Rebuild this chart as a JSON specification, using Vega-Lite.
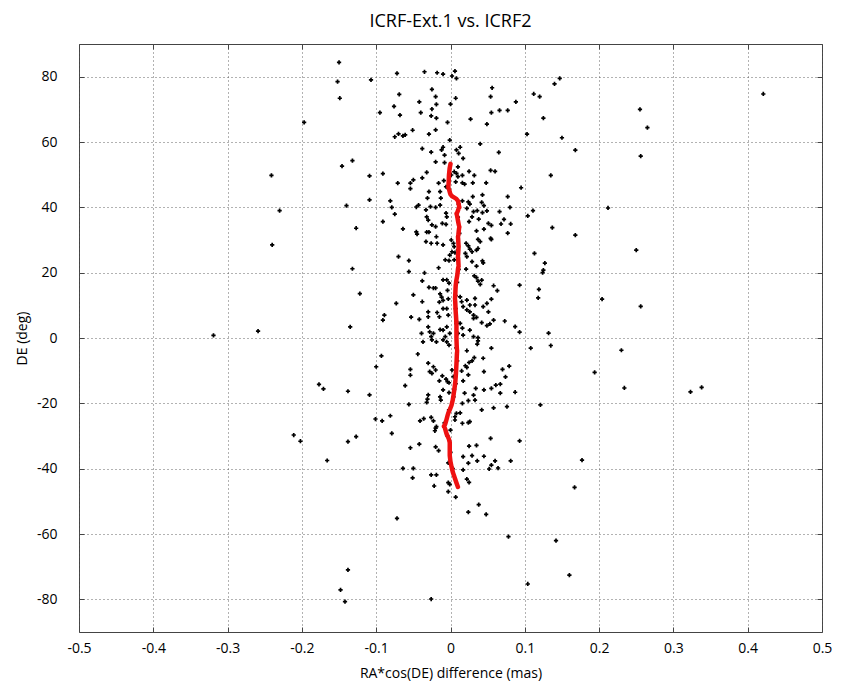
{
  "$schema": "https://vega.github.io/schema/vega-lite/v6.json",
  "width": 743,
  "height": 588,
  "autosize": {"type": "none"},
  "padding": {"left": 79, "top": 44, "right": 28, "bottom": 49},
  "background": "white",
  "title": {"text": "ICRF-Ext.1 vs. ICRF2", "fontSize": 18, "fontWeight": "normal", "font": "Open Sans", "color": "black", "offset": 13, "anchor": "middle"},
  "config": {
    "view": {"stroke": "#444", "strokeWidth": 1},
    "axis": {"labelFont": "Open Sans", "labelFontSize": 14, "labelColor": "black", "titleFont": "Open Sans", "titleFontSize": 14, "titleFontWeight": "normal", "titleColor": "black"}
  },
  "datasets": {
    "pts": [
      {"ra": -0.150, "de": 84.4}, {"ra": -0.152, "de": 78.5}, {"ra": -0.107, "de": 79.0}, {"ra": -0.149, "de": 73.4},
      {"ra": -0.072, "de": 81.0}, {"ra": -0.035, "de": 81.5}, {"ra": -0.018, "de": 81.2}, {"ra": -0.010, "de": 80.8},
      {"ra": 0.006, "de": 81.7}, {"ra": 0.002, "de": 80.2}, {"ra": 0.008, "de": 79.5}, {"ra": -0.069, "de": 74.6},
      {"ra": -0.025, "de": 76.1}, {"ra": -0.020, "de": 73.9}, {"ra": 0.007, "de": 73.4}, {"ra": -0.042, "de": 72.3},
      {"ra": -0.019, "de": 71.5}, {"ra": -0.076, "de": 70.9}, {"ra": 0.000, "de": 71.6}, {"ra": -0.025, "de": 70.1},
      {"ra": -0.095, "de": 69.0}, {"ra": -0.040, "de": 69.0}, {"ra": -0.068, "de": 68.2}, {"ra": -0.026, "de": 68.0},
      {"ra": -0.019, "de": 67.3}, {"ra": -0.004, "de": 66.0}, {"ra": -0.051, "de": 63.6}, {"ra": -0.020, "de": 63.7},
      {"ra": -0.070, "de": 62.5}, {"ra": -0.075, "de": 61.6}, {"ra": -0.064, "de": 61.9}, {"ra": -0.061, "de": 62.2},
      {"ra": -0.029, "de": 62.4}, {"ra": -0.001, "de": 60.6}, {"ra": -0.038, "de": 58.0}, {"ra": -0.026, "de": 56.9},
      {"ra": -0.012, "de": 57.6}, {"ra": -0.010, "de": 58.4}, {"ra": -0.008, "de": 56.0}, {"ra": 0.008, "de": 57.6},
      {"ra": 0.011, "de": 56.5}, {"ra": -0.146, "de": 52.6}, {"ra": -0.132, "de": 54.3}, {"ra": -0.109, "de": 49.6},
      {"ra": -0.091, "de": 50.3}, {"ra": -0.071, "de": 47.4}, {"ra": -0.054, "de": 47.4}, {"ra": -0.050, "de": 48.4},
      {"ra": -0.038, "de": 49.0}, {"ra": -0.032, "de": 50.7}, {"ra": -0.020, "de": 53.9}, {"ra": -0.008, "de": 53.7},
      {"ra": -0.054, "de": 45.7}, {"ra": -0.016, "de": 47.4}, {"ra": -0.009, "de": 48.2}, {"ra": -0.006, "de": 46.3},
      {"ra": -0.003, "de": 45.8}, {"ra": 0.001, "de": 49.9}, {"ra": 0.005, "de": 50.9}, {"ra": 0.008, "de": 50.4},
      {"ra": 0.010, "de": 49.4}, {"ra": 0.010, "de": 52.4}, {"ra": 0.007, "de": 47.8},
      {"ra": 0.147, "de": 79.5}, {"ra": 0.140, "de": 77.8}, {"ra": 0.056, "de": 76.6}, {"ra": 0.054, "de": 73.9},
      {"ra": 0.112, "de": 74.7}, {"ra": 0.120, "de": 73.9}, {"ra": 0.088, "de": 72.3}, {"ra": 0.055, "de": 69.0},
      {"ra": 0.066, "de": 69.7}, {"ra": 0.077, "de": 69.7}, {"ra": 0.027, "de": 67.0}, {"ra": 0.049, "de": 65.5},
      {"ra": 0.125, "de": 67.3}, {"ra": 0.103, "de": 62.4}, {"ra": 0.150, "de": 61.3}, {"ra": 0.168, "de": 57.5},
      {"ra": 0.040, "de": 59.4}, {"ra": 0.013, "de": 58.4}, {"ra": 0.065, "de": 56.8}, {"ra": 0.017, "de": 55.0},
      {"ra": 0.025, "de": 51.0}, {"ra": 0.054, "de": 51.3}, {"ra": 0.060, "de": 51.0}, {"ra": 0.016, "de": 49.8},
      {"ra": 0.032, "de": 49.8}, {"ra": 0.135, "de": 49.8}, {"ra": 0.016, "de": 47.5}, {"ra": 0.019, "de": 47.1},
      {"ra": 0.030, "de": 47.5}, {"ra": 0.048, "de": 47.5}, {"ra": 0.095, "de": 46.0},
      {"ra": -0.140, "de": 40.5}, {"ra": -0.109, "de": 42.3}, {"ra": -0.081, "de": 42.0}, {"ra": -0.079, "de": 40.0},
      {"ra": -0.075, "de": 37.9}, {"ra": -0.091, "de": 35.6}, {"ra": -0.127, "de": 33.6}, {"ra": -0.064, "de": 33.4},
      {"ra": -0.046, "de": 40.1}, {"ra": -0.043, "de": 40.7}, {"ra": -0.031, "de": 42.8}, {"ra": -0.029, "de": 44.8},
      {"ra": -0.014, "de": 44.8}, {"ra": -0.013, "de": 42.8}, {"ra": -0.027, "de": 40.2}, {"ra": -0.020, "de": 40.0},
      {"ra": -0.014, "de": 40.7}, {"ra": -0.033, "de": 39.2}, {"ra": -0.032, "de": 37.1}, {"ra": -0.030, "de": 36.1},
      {"ra": -0.006, "de": 38.2}, {"ra": -0.005, "de": 37.1}, {"ra": -0.025, "de": 34.6}, {"ra": -0.020, "de": 34.1},
      {"ra": -0.011, "de": 35.1}, {"ra": -0.006, "de": 34.8}, {"ra": -0.046, "de": 32.5}, {"ra": -0.045, "de": 31.8},
      {"ra": -0.032, "de": 32.4}, {"ra": -0.029, "de": 32.4}, {"ra": -0.019, "de": 31.0}, {"ra": -0.033, "de": 29.5},
      {"ra": -0.026, "de": 29.0}, {"ra": -0.018, "de": 29.0}, {"ra": -0.010, "de": 28.5}, {"ra": 0.001, "de": 30.0},
      {"ra": 0.004, "de": 29.0}, {"ra": -0.001, "de": 25.4}, {"ra": 0.002, "de": 26.4}, {"ra": 0.005, "de": 28.0},
      {"ra": 0.006, "de": 26.1}, {"ra": -0.007, "de": 23.9}, {"ra": -0.002, "de": 23.7}, {"ra": 0.005, "de": 23.9},
      {"ra": 0.010, "de": 24.6}, {"ra": -0.070, "de": 24.9}, {"ra": -0.056, "de": 23.7}, {"ra": -0.132, "de": 21.2},
      {"ra": -0.056, "de": 20.3}, {"ra": -0.035, "de": 19.9}, {"ra": -0.016, "de": 21.5}, {"ra": -0.010, "de": 17.8},
      {"ra": -0.005, "de": 17.8}, {"ra": -0.002, "de": 16.8}, {"ra": -0.038, "de": 17.5}, {"ra": -0.122, "de": 13.6},
      {"ra": -0.029, "de": 15.5}, {"ra": -0.023, "de": 15.3}, {"ra": -0.020, "de": 15.3}, {"ra": -0.073, "de": 10.6},
      {"ra": -0.050, "de": 13.2}, {"ra": -0.038, "de": 11.1}, {"ra": -0.014, "de": 13.5}, {"ra": -0.012, "de": 12.5},
      {"ra": -0.010, "de": 11.5}, {"ra": -0.015, "de": 11.0}, {"ra": -0.004, "de": 14.6}, {"ra": -0.003, "de": 12.0},
      {"ra": -0.089, "de": 7.0}, {"ra": -0.091, "de": 5.5}, {"ra": -0.053, "de": 6.4}, {"ra": -0.042, "de": 5.7},
      {"ra": -0.030, "de": 8.0}, {"ra": -0.030, "de": 6.5}, {"ra": -0.018, "de": 7.8}, {"ra": -0.015, "de": 6.5},
      {"ra": -0.010, "de": 9.0}, {"ra": -0.005, "de": 9.0}, {"ra": -0.003, "de": 7.0}, {"ra": -0.135, "de": 3.4},
      {"ra": -0.039, "de": 1.4}, {"ra": -0.030, "de": 3.4}, {"ra": -0.028, "de": 1.9}, {"ra": -0.023, "de": 1.4},
      {"ra": -0.014, "de": 2.6}, {"ra": -0.010, "de": 2.4}, {"ra": -0.005, "de": 3.4}, {"ra": -0.001, "de": 1.4},
      {"ra": -0.026, "de": 0.4}, {"ra": -0.007, "de": 0.4}, {"ra": 0.008, "de": 4.4}, {"ra": 0.010, "de": 1.4},
      {"ra": 0.030, "de": 43.3}, {"ra": 0.043, "de": 43.8}, {"ra": 0.077, "de": 43.3}, {"ra": 0.080, "de": 40.0},
      {"ra": 0.016, "de": 42.0}, {"ra": 0.024, "de": 41.7}, {"ra": 0.026, "de": 41.0}, {"ra": 0.042, "de": 41.5},
      {"ra": 0.045, "de": 40.5}, {"ra": 0.049, "de": 38.9}, {"ra": 0.022, "de": 39.7}, {"ra": 0.031, "de": 38.7},
      {"ra": 0.036, "de": 39.0}, {"ra": 0.029, "de": 37.1}, {"ra": 0.025, "de": 35.6}, {"ra": 0.043, "de": 38.4},
      {"ra": 0.066, "de": 38.7}, {"ra": 0.072, "de": 36.3}, {"ra": 0.068, "de": 34.9}, {"ra": 0.081, "de": 34.9},
      {"ra": 0.104, "de": 37.4}, {"ra": 0.111, "de": 39.0}, {"ra": 0.038, "de": 36.4}, {"ra": 0.051, "de": 35.1},
      {"ra": 0.055, "de": 34.5}, {"ra": 0.035, "de": 32.8}, {"ra": 0.045, "de": 33.3}, {"ra": 0.137, "de": 33.8},
      {"ra": 0.168, "de": 31.5}, {"ra": 0.077, "de": 32.1}, {"ra": 0.054, "de": 30.5}, {"ra": 0.055, "de": 30.2},
      {"ra": 0.037, "de": 30.2}, {"ra": 0.040, "de": 29.5}, {"ra": 0.021, "de": 29.0}, {"ra": 0.024, "de": 28.2},
      {"ra": 0.026, "de": 27.2}, {"ra": 0.029, "de": 26.4}, {"ra": 0.035, "de": 26.9}, {"ra": 0.037, "de": 27.4},
      {"ra": 0.020, "de": 25.9}, {"ra": 0.022, "de": 24.9}, {"ra": 0.029, "de": 23.4}, {"ra": 0.035, "de": 22.0},
      {"ra": 0.021, "de": 21.1}, {"ra": 0.043, "de": 23.6}, {"ra": 0.044, "de": 23.0}, {"ra": 0.113, "de": 25.9},
      {"ra": 0.127, "de": 22.9}, {"ra": 0.125, "de": 20.8}, {"ra": 0.124, "de": 20.0}, {"ra": 0.032, "de": 19.0},
      {"ra": 0.035, "de": 18.5}, {"ra": 0.037, "de": 17.4}, {"ra": 0.042, "de": 17.7}, {"ra": 0.040, "de": 16.4},
      {"ra": 0.058, "de": 16.0}, {"ra": 0.063, "de": 14.5}, {"ra": 0.093, "de": 16.2}, {"ra": 0.119, "de": 14.9},
      {"ra": 0.118, "de": 12.3}, {"ra": 0.013, "de": 12.6}, {"ra": 0.015, "de": 11.1}, {"ra": 0.022, "de": 11.6},
      {"ra": 0.026, "de": 10.1}, {"ra": 0.033, "de": 12.1}, {"ra": 0.033, "de": 10.1}, {"ra": 0.055, "de": 11.9},
      {"ra": 0.049, "de": 10.6}, {"ra": 0.044, "de": 9.6}, {"ra": 0.017, "de": 9.6}, {"ra": 0.022, "de": 8.6},
      {"ra": 0.026, "de": 8.0}, {"ra": 0.031, "de": 7.0}, {"ra": 0.031, "de": 6.0}, {"ra": 0.035, "de": 6.3},
      {"ra": 0.051, "de": 8.0}, {"ra": 0.073, "de": 5.2}, {"ra": 0.058, "de": 5.5}, {"ra": 0.053, "de": 4.3},
      {"ra": 0.049, "de": 3.8}, {"ra": 0.042, "de": 4.7}, {"ra": 0.087, "de": 3.5}, {"ra": 0.093, "de": 1.8},
      {"ra": 0.132, "de": 1.5}, {"ra": 0.013, "de": 4.5}, {"ra": 0.016, "de": 3.0}, {"ra": 0.026, "de": 2.4},
      {"ra": 0.031, "de": 0.4}, {"ra": 0.037, "de": 0.1}, {"ra": 0.017, "de": 0.9},
      {"ra": -0.093, "de": -5.5}, {"ra": -0.100, "de": -8.8}, {"ra": -0.044, "de": -4.9}, {"ra": -0.037, "de": -1.2},
      {"ra": -0.025, "de": -0.6}, {"ra": -0.019, "de": -1.2}, {"ra": -0.010, "de": -0.6}, {"ra": -0.005, "de": -1.2},
      {"ra": -0.002, "de": -2.2}, {"ra": -0.030, "de": -7.7}, {"ra": -0.023, "de": -8.8}, {"ra": -0.028, "de": -10.3},
      {"ra": -0.025, "de": -10.8}, {"ra": -0.020, "de": -9.8}, {"ra": -0.054, "de": -9.6}, {"ra": -0.054, "de": -11.4},
      {"ra": -0.138, "de": -16.3}, {"ra": -0.109, "de": -17.4}, {"ra": -0.061, "de": -14.6}, {"ra": -0.011, "de": -11.6},
      {"ra": -0.006, "de": -12.6}, {"ra": -0.004, "de": -13.4}, {"ra": -0.015, "de": -13.1}, {"ra": -0.002, "de": -13.7},
      {"ra": 0.002, "de": -9.8}, {"ra": 0.004, "de": -11.8}, {"ra": 0.005, "de": -15.7}, {"ra": -0.010, "de": -15.9},
      {"ra": -0.002, "de": -16.7}, {"ra": -0.030, "de": -17.4}, {"ra": -0.031, "de": -18.7}, {"ra": -0.032, "de": -19.7},
      {"ra": -0.014, "de": -18.0}, {"ra": -0.013, "de": -19.0}, {"ra": -0.056, "de": -20.3}, {"ra": -0.101, "de": -24.8},
      {"ra": -0.092, "de": -25.4}, {"ra": -0.081, "de": -23.8}, {"ra": -0.079, "de": -29.2}, {"ra": -0.041, "de": -25.4},
      {"ra": -0.036, "de": -24.7}, {"ra": -0.026, "de": -24.3}, {"ra": -0.023, "de": -25.4}, {"ra": -0.020, "de": -27.6},
      {"ra": -0.021, "de": -28.4}, {"ra": -0.019, "de": -27.1}, {"ra": 0.000, "de": -28.2}, {"ra": 0.006, "de": -24.1},
      {"ra": 0.008, "de": -23.1}, {"ra": 0.006, "de": -25.1}, {"ra": -0.138, "de": -31.7}, {"ra": -0.127, "de": -30.2},
      {"ra": -0.054, "de": -33.6}, {"ra": -0.042, "de": -32.5}, {"ra": -0.020, "de": -33.3}, {"ra": -0.016, "de": -34.5},
      {"ra": -0.064, "de": -39.9}, {"ra": -0.050, "de": -39.9}, {"ra": -0.051, "de": -42.8}, {"ra": -0.026, "de": -41.9},
      {"ra": -0.019, "de": -41.9}, {"ra": -0.022, "de": -45.3}, {"ra": -0.003, "de": -38.2}, {"ra": -0.003, "de": -44.3},
      {"ra": -0.001, "de": -44.8},
      {"ra": 0.108, "de": -3.1}, {"ra": 0.135, "de": -2.3}, {"ra": 0.194, "de": -10.5}, {"ra": 0.055, "de": -3.1},
      {"ra": 0.036, "de": -1.9}, {"ra": 0.037, "de": -0.9}, {"ra": 0.022, "de": -3.9}, {"ra": 0.032, "de": -6.0},
      {"ra": 0.029, "de": -7.0}, {"ra": 0.025, "de": -7.5}, {"ra": 0.020, "de": -8.5}, {"ra": 0.022, "de": -9.0},
      {"ra": 0.015, "de": -10.1}, {"ra": 0.044, "de": -6.2}, {"ra": 0.079, "de": -8.6}, {"ra": 0.070, "de": -9.6},
      {"ra": 0.074, "de": -11.9}, {"ra": 0.045, "de": -10.3}, {"ra": 0.024, "de": -11.3}, {"ra": 0.017, "de": -13.1},
      {"ra": 0.067, "de": -14.1}, {"ra": 0.061, "de": -14.4}, {"ra": 0.055, "de": -15.4}, {"ra": 0.045, "de": -15.9},
      {"ra": 0.034, "de": -15.4}, {"ra": 0.067, "de": -16.9}, {"ra": 0.087, "de": -16.6}, {"ra": 0.019, "de": -16.9},
      {"ra": 0.031, "de": -17.5}, {"ra": 0.033, "de": -19.0}, {"ra": 0.024, "de": -19.2}, {"ra": 0.016, "de": -20.0},
      {"ra": 0.121, "de": -20.5}, {"ra": 0.076, "de": -21.0}, {"ra": 0.058, "de": -21.4}, {"ra": 0.042, "de": -22.0},
      {"ra": 0.013, "de": -22.9}, {"ra": 0.024, "de": -25.9}, {"ra": 0.026, "de": -25.6}, {"ra": 0.016, "de": -26.1},
      {"ra": 0.054, "de": -30.7}, {"ra": 0.093, "de": -31.5}, {"ra": 0.025, "de": -33.1}, {"ra": 0.035, "de": -32.9},
      {"ra": 0.017, "de": -36.3}, {"ra": 0.029, "de": -36.0}, {"ra": 0.045, "de": -36.2}, {"ra": 0.024, "de": -38.3},
      {"ra": 0.036, "de": -37.6}, {"ra": 0.060, "de": -37.6}, {"ra": 0.055, "de": -38.9}, {"ra": 0.052, "de": -40.1},
      {"ra": 0.064, "de": -39.8}, {"ra": 0.081, "de": -37.6}, {"ra": 0.017, "de": -40.4}, {"ra": 0.177, "de": -37.4},
      {"ra": 0.022, "de": -43.2}, {"ra": 0.025, "de": -44.2}, {"ra": 0.167, "de": -45.7},
      {"ra": -0.003, "de": -47.0}, {"ra": 0.007, "de": -48.7}, {"ra": -0.072, "de": -55.2}, {"ra": -0.138, "de": -71.0},
      {"ra": -0.148, "de": -77.1}, {"ra": -0.142, "de": -80.7}, {"ra": -0.026, "de": -79.9},
      {"ra": 0.038, "de": -51.0}, {"ra": 0.024, "de": -53.3}, {"ra": 0.048, "de": -54.0}, {"ra": 0.078, "de": -60.8},
      {"ra": 0.142, "de": -62.0}, {"ra": 0.160, "de": -72.6}, {"ra": 0.104, "de": -75.3},
      {"ra": -0.197, "de": 66.0}, {"ra": -0.241, "de": 49.8}, {"ra": -0.230, "de": 39.0}, {"ra": -0.240, "de": 28.5},
      {"ra": -0.319, "de": 0.8}, {"ra": -0.259, "de": 2.1},
      {"ra": -0.177, "de": -14.2}, {"ra": -0.171, "de": -15.6}, {"ra": -0.211, "de": -29.7}, {"ra": -0.202, "de": -31.6},
      {"ra": -0.166, "de": -37.5},
      {"ra": 0.421, "de": 74.7}, {"ra": 0.255, "de": 70.0}, {"ra": 0.265, "de": 64.4}, {"ra": 0.256, "de": 55.7},
      {"ra": 0.212, "de": 39.8}, {"ra": 0.250, "de": 26.9}, {"ra": 0.204, "de": 11.9}, {"ra": 0.256, "de": 9.7},
      {"ra": 0.230, "de": -3.75}, {"ra": 0.234, "de": -15.3}, {"ra": 0.323, "de": -16.5}, {"ra": 0.338, "de": -15.1},
      {"ra": 0.011, "de": 41.0}, {"ra": 0.010, "de": 37.0}, {"ra": 0.012, "de": 32.0}, {"ra": 0.010, "de": 27.0},
      {"ra": 0.011, "de": 21.0}, {"ra": 0.009, "de": 17.0}, {"ra": 0.007, "de": 13.0}, {"ra": 0.007, "de": 9.0},
      {"ra": 0.008, "de": 5.0}, {"ra": 0.008, "de": -3.0}, {"ra": 0.009, "de": -7.0}, {"ra": 0.007, "de": -14.0},
      {"ra": 0.004, "de": -18.0}, {"ra": -0.002, "de": -22.0}, {"ra": -0.008, "de": -26.0}, {"ra": -0.004, "de": -30.0},
      {"ra": 0.000, "de": -35.0}, {"ra": 0.003, "de": -40.0}
    ],
    "curve": [
      {"ra": 0.000, "de": 53.3}, {"ra": -0.002, "de": 50.0}, {"ra": -0.003, "de": 46.0}, {"ra": 0.000, "de": 44.0},
      {"ra": 0.010, "de": 42.0}, {"ra": 0.012, "de": 40.0}, {"ra": 0.008, "de": 38.0}, {"ra": 0.010, "de": 36.0},
      {"ra": 0.012, "de": 34.0}, {"ra": 0.010, "de": 31.0}, {"ra": 0.011, "de": 28.0}, {"ra": 0.010, "de": 25.0},
      {"ra": 0.011, "de": 22.0}, {"ra": 0.009, "de": 19.0}, {"ra": 0.007, "de": 16.0}, {"ra": 0.006, "de": 12.0},
      {"ra": 0.007, "de": 8.0}, {"ra": 0.008, "de": 4.0}, {"ra": 0.008, "de": 0.0}, {"ra": 0.009, "de": -4.0},
      {"ra": 0.008, "de": -8.0}, {"ra": 0.007, "de": -12.0}, {"ra": 0.005, "de": -16.0}, {"ra": 0.003, "de": -19.0},
      {"ra": -0.003, "de": -23.0}, {"ra": -0.009, "de": -27.0}, {"ra": -0.005, "de": -29.5}, {"ra": -0.001, "de": -32.0},
      {"ra": -0.001, "de": -36.0}, {"ra": 0.002, "de": -40.0}, {"ra": 0.006, "de": -43.0}, {"ra": 0.010, "de": -45.6}
    ]
  },
  "layer": [
    {
      "data": {"name": "pts"},
      "mark": {"type": "point", "shape": "cross", "filled": true, "size": 18, "color": "black", "opacity": 1},
      "encoding": {
        "x": {"field": "ra", "type": "quantitative", "scale": {"domain": [-0.5, 0.5], "nice": false, "zero": false},
          "axis": {"orient": "bottom", "title": "RA*cos(DE) difference (mas)", "values": [-0.5, -0.4, -0.3, -0.2, -0.1, 0, 0.1, 0.2, 0.3, 0.4, 0.5],
            "format": ".1~f", "labelExpr": "replace(datum.label, '\u2212', '-')", "labelFlush": false, "labelOverlap": false, "grid": true, "gridDash": [1, 3], "gridColor": "#555", "gridOpacity": 0.9,
            "domain": false, "ticks": true, "tickSize": -5, "tickColor": "#444", "labelPadding": 14, "titleY": 41, "titleBaseline": "middle"}},
        "y": {"field": "de", "type": "quantitative", "scale": {"domain": [-90, 90], "nice": false, "zero": false},
          "axis": {"orient": "left", "title": "DE (deg)", "values": [-80, -60, -40, -20, 0, 20, 40, 60, 80],
            "format": "d", "labelExpr": "replace(datum.label, '\u2212', '-')", "labelFlush": false, "grid": true, "gridDash": [1, 3], "gridColor": "#555", "gridOpacity": 0.9,
            "domain": false, "ticks": true, "tickSize": -5, "tickColor": "#444", "labelPadding": 27, "titleX": -57, "titleBaseline": "middle"}}
      }
    },
    {
      "data": {"name": "curve"},
      "mark": {"type": "line", "color": "#ee1111", "strokeWidth": 4.5, "strokeCap": "round", "strokeJoin": "round", "interpolate": "monotone"},
      "encoding": {
        "x": {"field": "ra", "type": "quantitative", "axis": {"orient": "top", "title": null, "labels": false, "grid": false, "domain": false, "ticks": true, "tickSize": -5, "tickColor": "#444", "values": [-0.5, -0.4, -0.3, -0.2, -0.1, 0, 0.1, 0.2, 0.3, 0.4, 0.5]}},
        "y": {"field": "de", "type": "quantitative", "axis": {"orient": "right", "title": null, "labels": false, "grid": false, "domain": false, "ticks": true, "tickSize": -5, "tickColor": "#444", "values": [-80, -60, -40, -20, 0, 20, 40, 60, 80]}},
        "order": {"field": "de", "type": "quantitative", "sort": "descending"}
      }
    }
  ],
  "resolve": {"axis": {"x": "independent", "y": "independent"}}
}
